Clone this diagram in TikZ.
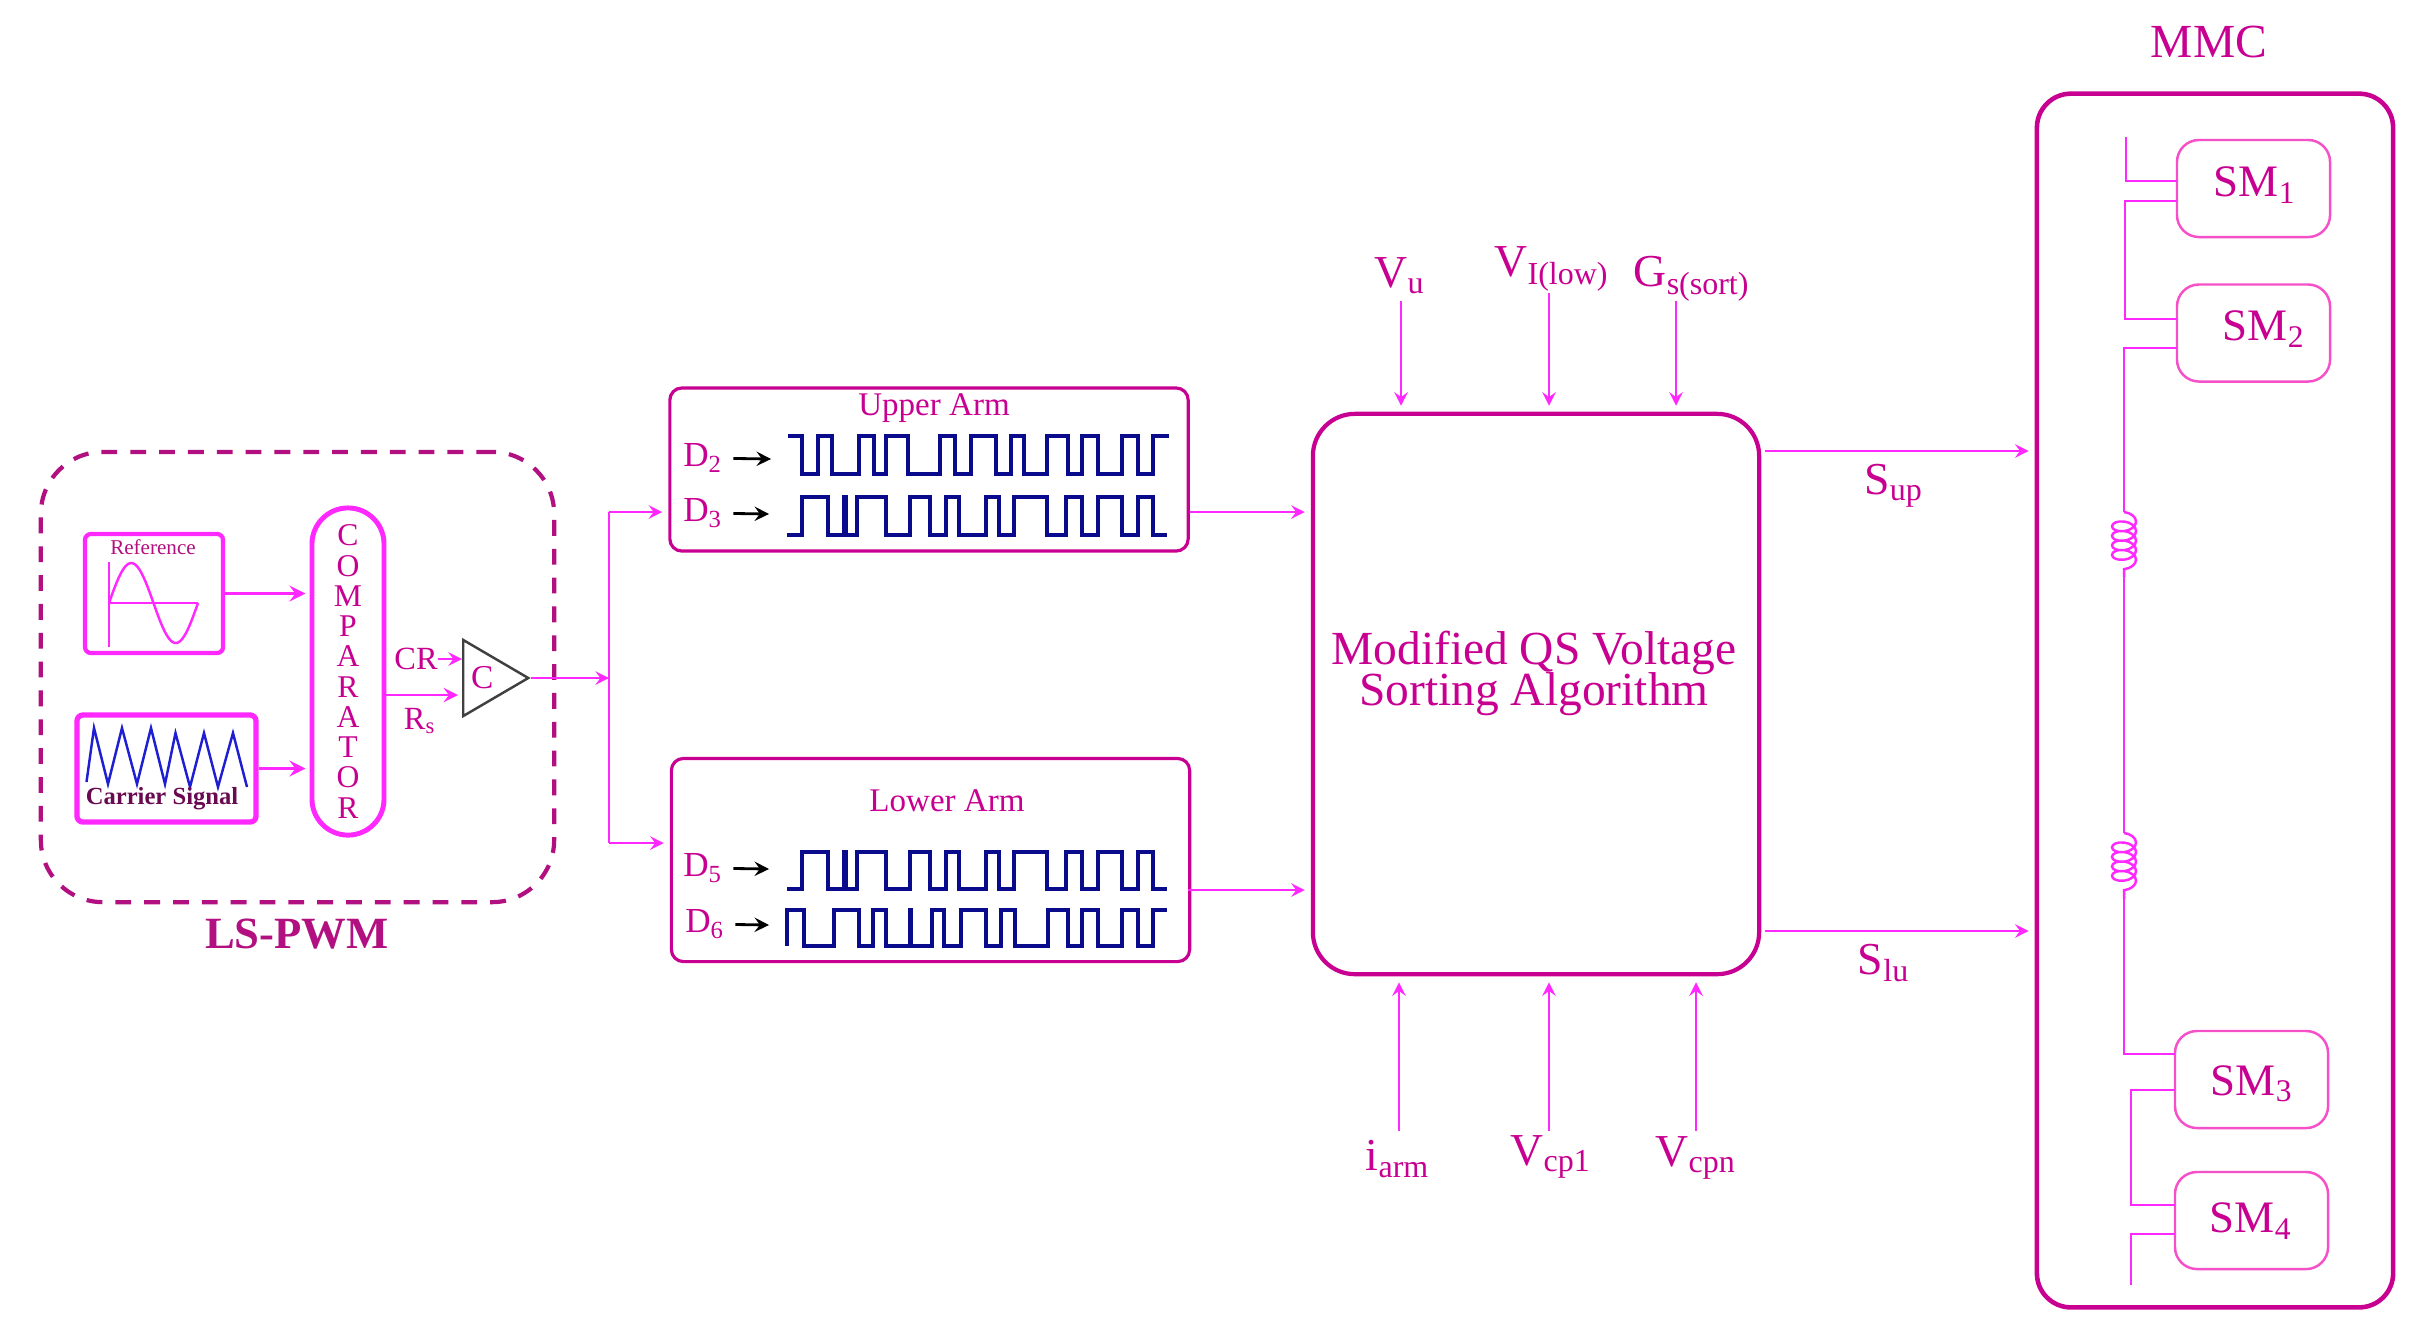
\documentclass[tikz,border=0pt]{standalone}
\usepackage{fontspec}
\setmainfont{Liberation Serif}
\usetikzlibrary{shapes.geometric,decorations.pathmorphing}
\definecolor{MMCPink}{RGB}{200,0,145}
\definecolor{MMCWire}{RGB}{255,40,255}
\definecolor{MMCSoft}{RGB}{245,80,200}
\definecolor{MMCDash}{RGB}{178,16,128}
\definecolor{MMCNavy}{RGB}{10,10,140}
\definecolor{MMCBlue}{RGB}{30,30,210}
\tikzset{
  wire/.style={MMCWire,line width=.7pt},
  sigin/.style={->,MMCWire,line width=.7pt,shorten >=.06cm},
  sigbold/.style={->,MMCWire,line width=1pt,shorten >=.04cm},
  dlabel/.style={MMCPink,inner sep=0pt,font=\fontsize{10}{10}\selectfont},
  biglabel/.style={MMCPink,inner sep=0pt,font=\fontsize{13}{13}\selectfont},
  armtext/.style={MMCPink,inner sep=0pt,font=\fontsize{9.4}{10}\selectfont},
  armbox/.style={draw=MMCPink,line width=.9pt,rounded corners=.12cm,minimum width=5.18cm,inner sep=0pt},
  smbox/.style={draw=MMCSoft,line width=.7pt,rounded corners=.22cm,minimum width=1.53cm,minimum height=.97cm,inner sep=0pt},
  smtext/.style={text=MMCPink,inner sep=0pt,font=\fontsize{12.8}{13}\selectfont},
  srcbox/.style={draw=MMCWire,rounded corners=.06cm,inner sep=0pt},
  pulse/.style={MMCNavy,line width=1pt},
  dgo/.style={->,black,line width=.8pt,shorten <=.1cm},
  coilpart/.style={MMCWire,line width=.7pt,xshift=.03cm,decorate,decoration={coil,aspect=.6,segment length=.095cm,amplitude=.12cm}}
}

\begin{document}
\begin{tikzpicture}[>=stealth,x=.01cm,y=-.01cm]
  \useasboundingbox (0,0) rectangle (2422,1335);
  % LS-PWM part
  \node[draw=MMCDash,line width=1.2pt,dash pattern=on 4.5pt off 3.7pt,rounded corners=.62cm,minimum width=5.13cm,minimum height=4.5cm,inner sep=0pt] (pwm) at (297.5,677) {};
  \node[text=MMCDash,inner sep=0pt,font=\fontsize{12.7}{13}\selectfont\bfseries] (pwmname) at (297,934) {LS-PWM};
  \node[srcbox,line width=1.2pt,minimum width=1.38cm,minimum height=1.19cm] (ref) at (154,593.5) {};
  \node[MMCDash,inner sep=0pt,font=\fontsize{6}{6}\selectfont] (reftext) at (153,547) {Reference};
  \draw[wire] (109,562) -- (109,647);
  \draw[wire] (109,603) -- (198,603);
  \draw[wire] plot[domain=0:360,samples=60,smooth] ({109+\x/360*89},{603-40*sin(\x)});
  \node[srcbox,line width=1.5pt,minimum width=1.79cm,minimum height=1.07cm] (car) at (166.5,768.5) {};
  \draw[MMCBlue,line width=.7pt] (86.5,782) -- (94,728) -- (108,784) -- (122,728) -- (137,784) -- (151,728) -- (165,784) -- (175.5,733) -- (190,787) -- (204,733) -- (218,787) -- (233,733) -- (247,787);
  \node[text={rgb,255:red,105;green,10;blue,80},inner sep=0pt,font=\fontsize{7}{7}\selectfont\bfseries] (cartext) at (162,799) {Carrier Signal};
  \node[draw=MMCWire,line width=1.4pt,rounded corners=.36cm,minimum width=.72cm,minimum height=3.27cm,inner sep=0pt,align=center,text=MMCPink,font=\fontsize{9}{8.6}\selectfont] (cmp) at (348,671.5) {C\\O\\M\\P\\A\\R\\A\\T\\O\\R};
  \draw[sigbold] (ref.east) -- (ref.east -| cmp.west);
  \draw[sigbold] (car.east) -- (car.east -| cmp.west);
  \node[draw=black!75,line width=.7pt,isosceles triangle,isosceles triangle stretches,minimum width=.76cm,minimum height=.65cm,inner sep=0pt,anchor=lower side,text=MMCPink,font=\fontsize{9.5}{10}\selectfont] (tri) at (462,678) {C};
  \node[MMCPink,inner sep=0pt,font=\fontsize{9.2}{10}\selectfont] (cr) at (416,659) {CR};
  \node[MMCPink,inner sep=0pt,font=\fontsize{9.2}{10}\selectfont] (rs) at (420,721) {R\textsubscript{s}};
  \draw[->,wire] (cr.east) -- (cr.east -| tri.lower side);
  \coordinate (cout) at (384,695);
  \draw[sigbold,line width=.8pt] (cout) -- (cout -| tri.lower side);
  % split to the two arms
  \coordinate (busm) at (609,678);
  \coordinate (bust) at (609,512);
  \coordinate (busb) at (609,843);
  \draw[->,wire] (tri.apex) -- (busm);
  \draw[wire] (bust) -- (busb);
  \node[armbox,minimum height=1.63cm] (up) at (929,469.5) {};
  \node[armbox,minimum height=2.03cm] (lo) at (930.5,860) {};
  \draw[sigin] (bust) -- (bust -| up.west);
  \draw[sigin] (busb) -- (busb -| lo.west);
  \node[armtext] (uptext) at (934,408) {Upper Arm};
  \node[armtext] (lotext) at (947,801) {Lower Arm};
  % gate pulses
  \node[dlabel] (d2) at (703,458) {D\textsubscript{2}};
  \node[dlabel] (d3) at (703,513) {D\textsubscript{3}};
  \node[dlabel] (d5) at (703,868) {D\textsubscript{5}};
  \node[dlabel] (d6) at (705,924) {D\textsubscript{6}};
  \coordinate (w2) at (771,459);
  \coordinate (w3) at (769,514);
  \coordinate (w5) at (769,869);
  \coordinate (w6) at (769,925);
  \draw[dgo] (d2) -- (w2);
  \draw[dgo] (d3) -- (w3);
  \draw[dgo] (d5) -- (w5);
  \draw[dgo] (d6) -- (w6);
  \draw[pulse] (788,436) -| (802,474) -| (818,436) -| (832,474) -| (859,436) -| (874,474) -| (886,436) -| (908,474) -| (940,436) -| (955,474) -| (971,436) -| (996,474) -| (1011,436) -| (1024,474) -| (1047,436) -| (1068,474) -| (1082,436) -| (1098,474) -| (1122,436) -| (1138,474) -| (1153,436) -- (1169,436);
  \draw[pulse] (787,535) -| (802,497) -| (828,535) -| (844,497) -| (846,535) -| (857,497) -| (886,535) -| (910,497) -| (930,535) -| (946,497) -| (959,535) -| (986,497) -| (999,535) -| (1014,497) -| (1047,535) -| (1066,497) -| (1082,535) -| (1098,497) -| (1122,535) -| (1138,497) -| (1153,535) -- (1167,535);
  \draw[pulse] (787,889) -| (802,852) -| (828,889) -| (844,852) -| (846,889) -| (857,852) -| (886,889) -| (910,852) -| (930,889) -| (946,852) -| (959,889) -| (986,852) -| (999,889) -| (1014,852) -| (1047,889) -| (1066,852) -| (1082,889) -| (1098,852) -| (1122,889) -| (1138,852) -| (1153,889) -- (1167,889);
  \draw[pulse] (787,946) -- (787,910) -| (804,946) -| (834,910) -| (859,946) -| (873,910) -| (886,946) -| (910,910) -| (911,946) -| (932,910) -| (944,946) -| (961,910) -| (986,946) -| (1001,910) -| (1015,946) -| (1048,910) -| (1068,946) -| (1082,910) -| (1098,946) -| (1122,910) -| (1138,946) -| (1153,910) -- (1167,910);
  % sorting block
  \node[draw=MMCPink,line width=1.2pt,rounded corners=.42cm,minimum width=4.46cm,minimum height=5.6cm,inner sep=0pt] (alg) at (1536,694) {};
  \node[align=center,text=MMCPink,inner sep=0pt,font=\fontsize{13.5}{13}\selectfont] (algtext) at (1534,673) {Modified QS Voltage\\[-1.3pt]Sorting Algorithm};
  \coordinate (loout) at (1188,890);
  \draw[sigin] (bust -| up.east) -- (bust -| alg.west);
  \draw[sigin] (loout) -- (loout -| alg.west);
  \node[biglabel] (vu) at (1400,276) {V\textsubscript{u}};
  \node[biglabel] (vi) at (1552,269) {V\textsubscript{I(low)}};
  \node[biglabel] (gs) at (1692,279) {G\textsubscript{s(sort)}};
  \node[biglabel] (ia) at (1398,1159) {i\textsubscript{arm}};
  \node[biglabel] (vc1) at (1551,1157) {V\textsubscript{cp1}};
  \node[biglabel] (vcn) at (1696,1158) {V\textsubscript{cpn}};
  \coordinate (vuin) at (1401,301);
  \coordinate (viin) at (1549,293);
  \coordinate (gsin) at (1676,301);
  \coordinate (iain) at (1399,1131);
  \coordinate (vc1in) at (1549,1131);
  \coordinate (vcnin) at (1696,1131);
  \draw[sigin] (vuin) -- (vuin |- alg.north);
  \draw[sigin] (viin) -- (viin |- alg.north);
  \draw[sigin] (gsin) -- (gsin |- alg.north);
  \draw[sigin] (iain) -- (iain |- alg.south);
  \draw[sigin] (vc1in) -- (vc1in |- alg.south);
  \draw[sigin] (vcnin) -- (vcnin |- alg.south);
  % MMC part
  \node[draw=MMCPink,line width=1.3pt,rounded corners=.34cm,minimum width=3.56cm,minimum height=12.13cm,inner sep=0pt] (mmc) at (2215,700.5) {};
  \node[biglabel,font=\fontsize{13.5}{14}\selectfont] (mmcname) at (2209,42) {MMC};
  \coordinate (supo) at (1765,451);
  \coordinate (sluo) at (1765,931);
  \draw[sigin] (supo) -- (supo -| mmc.west);
  \draw[sigin] (sluo) -- (sluo -| mmc.west);
  \node[biglabel] (sup) at (1894,486) {S\textsubscript{up}};
  \node[biglabel] (slu) at (1884,963) {S\textsubscript{lu}};
  \node[smbox] (sm1) at (2253.5,188.5) {};
  \node[smbox] (sm2) at (2253.5,333) {};
  \node[smbox] (sm3) at (2251.5,1079.5) {};
  \node[smbox] (sm4) at (2251.5,1220.5) {};
  \node[smtext] (sm1text) at (2255,185) {SM\textsubscript{1}};
  \node[smtext] (sm2text) at (2264,329) {SM\textsubscript{2}};
  \node[smtext] (sm3text) at (2252,1084) {SM\textsubscript{3}};
  \node[smtext] (sm4text) at (2251,1221) {SM\textsubscript{4}};
  \coordinate (ltop) at (2126,137);
  \coordinate (lbot) at (2131,1285);
  \coordinate (c1a) at (2124,512);
  \coordinate (c1b) at (2124,577);
  \coordinate (c2a) at (2124,833);
  \coordinate (c2b) at (2124,899);
  \coordinate (m1a) at (2177,181);
  \coordinate (m1b) at (2177,201);
  \coordinate (m2a) at (2177,319);
  \coordinate (m2b) at (2177,348);
  \coordinate (m3a) at (2175,1054);
  \coordinate (m3b) at (2175,1090);
  \coordinate (m4a) at (2175,1205);
  \coordinate (m4b) at (2175,1234);
  \draw[wire] (ltop) |- (m1a);
  \draw[wire] (m1b) -- (2125,201) |- (m2a);
  \draw[wire,line width=.8pt] (m2b) -| (c1a);
  \draw[wire,line width=.8pt] (c1b) -- (c2a);
  \draw[wire,line width=.8pt] (c2b) |- (m3a);
  \draw[wire] (m3b) -- (2131,1090) |- (m4a);
  \draw[wire] (m4b) -| (lbot);
  \draw[coilpart] (c1a) -- (c1b);
  \draw[coilpart] (c2a) -- (c2b);
\end{tikzpicture}
\end{document}
